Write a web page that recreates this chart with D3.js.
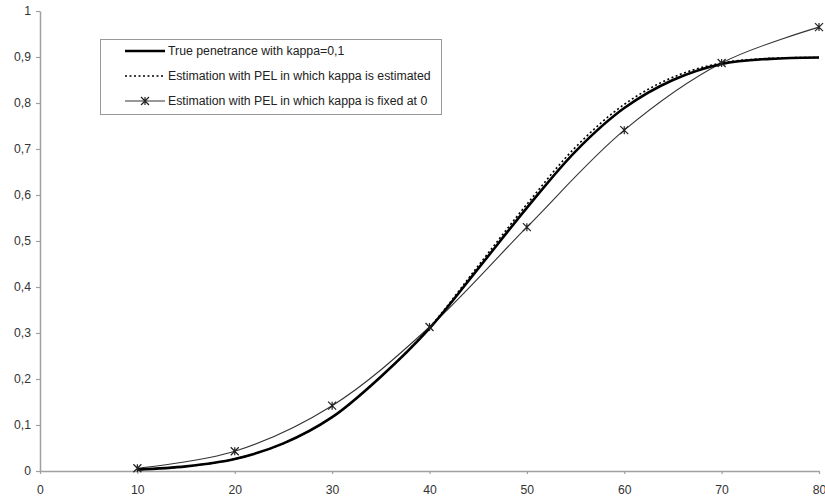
<!DOCTYPE html>
<html><head><meta charset="utf-8">
<script src="https://cdn.jsdelivr.net/npm/d3@7"></script>
<style>body{margin:0;background:#fff}svg{display:block}text{font-family:"Liberation Sans",Arial,sans-serif}</style>
</head><body><svg id="c" width="825" height="499"></svg>
<script>
const xTicks = [0,10,20,30,40,50,60,70,80];
const yTicks = [0,0.1,0.2,0.3,0.4,0.5,0.6,0.7,0.8,0.9,1];
const trueX = [10,15,20,25,30,35,40,45,50,55,60,65,70,75,80];
const trueY = [0.003,0.010,0.026,0.060,0.117,0.205,0.310,0.440,0.572,0.695,0.789,0.850,0.885,0.896,0.899];
const estX = [10,15,20,25,30,35,40,45,50,55,60,65,70,75,80];
const estY = [0.003,0.010,0.026,0.060,0.117,0.205,0.312,0.446,0.580,0.704,0.797,0.856,0.887,0.897,0.899];
const fixX = [10,20,30,40,50,60,70,80];
const fixY = [0.006,0.043,0.142,0.313,0.530,0.741,0.887,0.965];
const legendLabels = ["True penetrance with kappa=0,1","Estimation with PEL in which kappa is estimated","Estimation with PEL in which kappa is fixed at 0"];

const svg = d3.select("#c");
const x = d3.scaleLinear().domain([0,80]).range([40,819]);
const y = d3.scaleLinear().domain([0,1]).range([471,11]);
const fmt = d => String(+d.toFixed(1)).replace(".", ",");

const ax = svg.append("g").attr("transform","translate(0,471)")
  .call(d3.axisBottom(x).tickValues(xTicks).tickSize(3).tickPadding(11).tickSizeOuter(0));
const ay = svg.append("g").attr("transform","translate(40,0)")
  .call(d3.axisLeft(y).tickValues(yTicks).tickFormat(fmt).tickSize(4).tickPadding(5).tickSizeOuter(0));
[ax,ay].forEach(a=>{
  a.select(".domain").attr("stroke","#a0a0a0").attr("stroke-width",1.5);
  a.selectAll(".tick line").attr("stroke","#a0a0a0").attr("stroke-width",1.2);
  a.selectAll(".tick text").attr("fill","#333").attr("font-size",12.2).attr("font-family","Liberation Sans, Arial, sans-serif");
});

const zip = (xs,ys)=>xs.map((v,i)=>[v,ys[i]]);
const line = d3.line().x(d=>x(d[0])).y(d=>y(d[1])).curve(d3.curveCatmullRom.alpha(0.5));

svg.append("path").datum(zip(fixX,fixY)).attr("d",line).attr("fill","none").attr("stroke","#333").attr("stroke-width",1.1);
svg.append("path").datum(zip(trueX,trueY)).attr("d",line).attr("fill","none").attr("stroke","#000").attr("stroke-width",2.6);
svg.append("path").datum(zip(estX,estY)).attr("d",line).attr("fill","none").attr("stroke","#000").attr("stroke-width",1.6).attr("stroke-dasharray","2,2.5");

function star(g,cx,cy,r){
  const p = `M${cx-r},${cy-r}L${cx+r},${cy+r}M${cx-r},${cy+r}L${cx+r},${cy-r}M${cx},${cy-r}L${cx},${cy+r}`;
  g.append("path").attr("d",p).attr("stroke","#222").attr("stroke-width",1.2).attr("fill","none");
}
const mg = svg.append("g");
zip(fixX,fixY).forEach(d=>star(mg,x(d[0]),y(d[1]),4));

// legend
const lg = svg.append("g");
lg.append("rect").attr("x",100.5).attr("y",39.5).attr("width",341).attr("height",75).attr("fill","#fff").attr("stroke","#999").attr("stroke-width",1);
const rows=[51,76,101];
lg.append("line").attr("x1",125).attr("x2",165).attr("y1",rows[0]).attr("y2",rows[0]).attr("stroke","#000").attr("stroke-width",2.6);
lg.append("line").attr("x1",125).attr("x2",165).attr("y1",rows[1]).attr("y2",rows[1]).attr("stroke","#000").attr("stroke-width",1.6).attr("stroke-dasharray","2,2.5");
lg.append("line").attr("x1",125).attr("x2",165).attr("y1",rows[2]).attr("y2",rows[2]).attr("stroke","#333").attr("stroke-width",1.1);
star(lg,145,rows[2],4);
legendLabels.forEach((t,i)=>{
  lg.append("text").attr("x",168).attr("y",rows[i]).attr("dy","0.35em").attr("font-size",12.3).attr("fill","#222").text(t);
});
</script></body></html>
